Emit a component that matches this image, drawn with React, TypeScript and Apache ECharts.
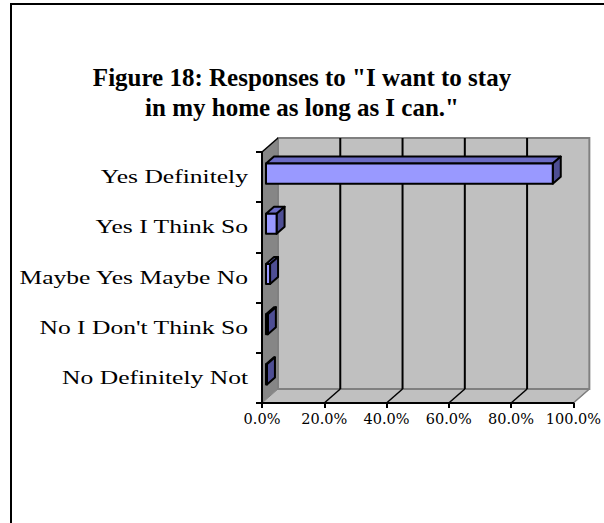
import React, { useEffect, useRef } from "react";
import * as echarts from "echarts";

// Survey answers, top to bottom
const categories = [
  "Yes Definitely",
  "Yes I Think So",
  "Maybe Yes Maybe No",
  "No I Don't Think So",
  "No Definitely Not",
];
// Share of respondents, in percent
const shares = [92.1, 3.4, 1.3, 0.6, 0.3];
// Value-axis ticks, in percent
const xTicks = [0, 20, 40, 60, 80, 100];

const titleText = 'Figure 18: Responses to "I want to stay\nin my home as long as I can."';

// Oblique depth of the 3D box
const DX = 16;
const DY = -14;

export default function App() {
  const ref = useRef<HTMLDivElement>(null);

  useEffect(() => {
    if (!ref.current) return;
    const chart = echarts.init(ref.current, undefined, { renderer: "svg" });

    const wallsRender = (params: any, api: any) => {
      const cs = params.coordSys;
      const left = cs.x;
      const top = cs.y;
      const right = cs.x + cs.width;
      const bottom = cs.y + cs.height;
      const children: any[] = [
        {
          type: "polygon",
          shape: { points: [[left, top], [left + DX, top + DY], [left + DX, bottom + DY], [left, bottom]] },
          style: { fill: "#868686", stroke: "none" },
        },
        {
          type: "polygon",
          shape: { points: [[left, bottom], [right, bottom], [right + DX, bottom + DY], [left + DX, bottom + DY]] },
          style: { fill: "#c0c0c0", stroke: "#808080", lineWidth: 1 },
        },
        {
          type: "rect",
          shape: { x: left + DX, y: top + DY, width: cs.width, height: cs.height },
          style: { fill: "#c0c0c0", stroke: "#808080", lineWidth: 2 },
        },
        {
          type: "line",
          shape: { x1: left, y1: top, x2: left + DX, y2: top + DY },
          style: { stroke: "#000", lineWidth: 1.5 },
        },
      ];
      xTicks.forEach((t) => {
        if (t === 0) return;
        const x = api.coord([t, 0])[0];
        const inner = t < 100;
        if (inner) {
          children.push({
            type: "line",
            shape: { x1: x + DX, y1: top + DY, x2: x + DX, y2: bottom + DY },
            style: { stroke: "#000", lineWidth: 2 },
          });
        }
        children.push({
          type: "line",
          shape: { x1: x, y1: bottom, x2: x + DX, y2: bottom + DY },
          style: { stroke: inner ? "#000" : "#808080", lineWidth: 1.5 },
        });
      });
      return { type: "group", children };
    };

    const barsRender = (params: any, api: any) => {
      const v = api.value(0);
      const i = api.value(1);
      const base = api.coord([0, i]);
      const end = api.coord([v, i]);
      const band = api.size([0, 1])[1];
      const h = band * 0.4;
      const f0 = 0.25;
      const f1 = 0.75;
      const ox = DX * f0;
      const oy = DY * f0;
      const dx = DX * (f1 - f0);
      const dy = DY * (f1 - f0);
      const x0 = base[0] + ox;
      const x1 = end[0] + ox;
      const yc = base[1] + oy;
      const yT = yc - h / 2;
      const yB = yc + h / 2;
      const edge = { stroke: "#000", lineWidth: 2, lineJoin: "round" };
      return {
        type: "group",
        children: [
          {
            type: "polygon",
            shape: { points: [[x0, yT], [x1, yT], [x1 + dx, yT + dy], [x0 + dx, yT + dy]] },
            style: { fill: "#6b6bc4", ...edge },
          },
          {
            type: "polygon",
            shape: { points: [[x1, yT], [x1 + dx, yT + dy], [x1 + dx, yB + dy], [x1, yB]] },
            style: { fill: "#4e4e94", ...edge },
          },
          {
            type: "rect",
            shape: { x: x0, y: yT, width: Math.max(x1 - x0, 0), height: h },
            style: { fill: "#9999ff", ...edge },
          },
        ],
      };
    };

    const labelsRender = (params: any, api: any) => {
      const p = api.coord([0, api.value(1)]);
      return {
        type: "text",
        x: p[0] - 14,
        y: p[1],
        scaleX: 1.42,
        style: {
          text: categories[params.dataIndex],
          align: "right",
          verticalAlign: "middle",
          fontFamily: "Liberation Serif",
          fontSize: 18,
          fill: "#000",
        },
      };
    };

    chart.setOption({
      animation: false,
      backgroundColor: "#fff",
      title: {
        text: titleText,
        left: "center",
        top: 57,
        textStyle: {
          fontFamily: "Liberation Serif",
          fontWeight: "bold",
          fontSize: 25,
          lineHeight: 30,
          color: "#000",
        },
      },
      graphic: [
        {
          type: "rect",
          shape: { x: 11, y: 4, width: 700, height: 700 },
          style: { fill: "none", stroke: "#000", lineWidth: 2 },
          silent: true,
        },
      ],
      grid: { left: 262, top: 152, width: 315, height: 251 },
      xAxis: {
        type: "value",
        min: 0,
        max: 100,
        interval: 20,
        z: 5,
        axisLine: { show: true, lineStyle: { color: "#000", width: 2 } },
        axisTick: { show: true, length: 5, lineStyle: { color: "#000", width: 2 } },
        splitLine: { show: false },
        axisLabel: {
          formatter: (v: number) => v.toFixed(1) + "%",
          fontFamily: "DejaVu Serif",
          fontSize: 14.5,
          color: "#000",
          margin: 8,
        },
      },
      yAxis: {
        type: "category",
        data: categories,
        inverse: true,
        z: 5,
        axisLine: { show: true, lineStyle: { color: "#000", width: 2 } },
        axisTick: { show: true, length: 6, lineStyle: { color: "#000", width: 2 } },
        axisLabel: { show: false },
        splitLine: { show: false },
      },
      series: [
        {
          type: "custom",
          name: "walls",
          z: 1,
          silent: true,
          renderItem: wallsRender,
          data: [[0, 0]],
        },
        {
          type: "custom",
          name: "labels",
          z: 6,
          silent: true,
          renderItem: labelsRender,
          data: categories.map((_, i) => [0, i]),
        },
        {
          type: "custom",
          name: "Share",
          z: 8,
          renderItem: barsRender,
          encode: { x: 0, y: 1 },
          data: shares.map((v, i) => [v, i]),
        },
      ],
    });

    return () => chart.dispose();
  }, []);

  return (
    <div
      ref={ref}
      style={{ position: "fixed", left: 0, top: 0, width: 604, height: 523 }}
    />
  );
}
